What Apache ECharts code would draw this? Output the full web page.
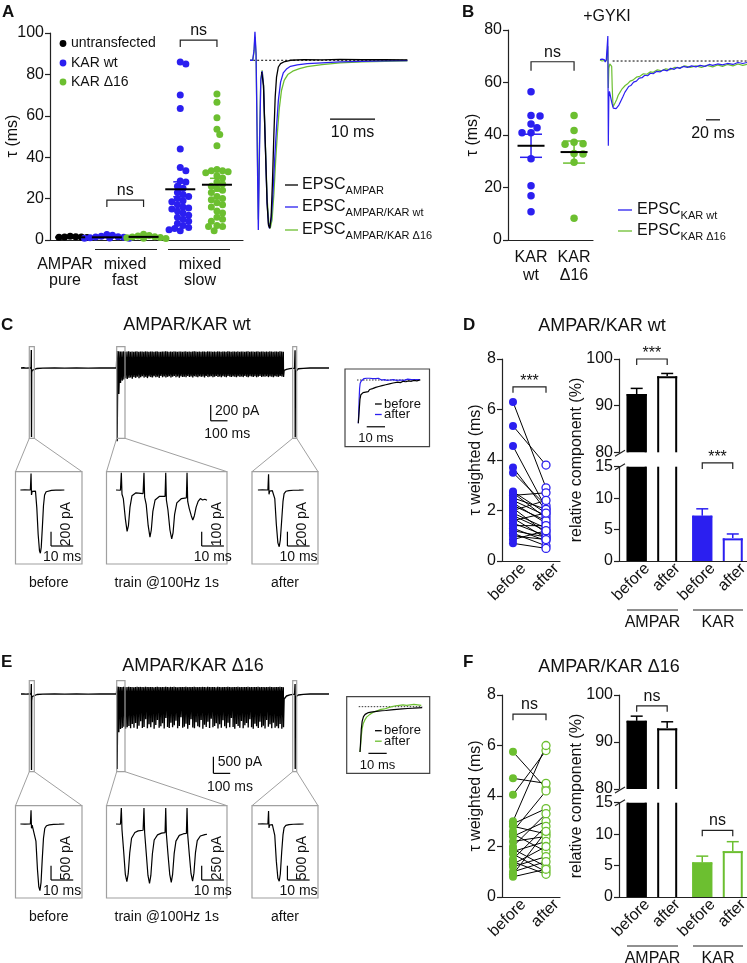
<!DOCTYPE html>
<html>
<head>
<meta charset="utf-8">
<title>AMPAR/KAR figure</title>
<script src="https://cdn.jsdelivr.net/npm/echarts@6/dist/echarts.min.js"></script>
<style>
html,body{margin:0;padding:0;background:#fff;}
#chart{width:747px;height:963px;}
</style>
</head>
<body>
<div id="chart"></div>
<script>
// ======================= DATA =======================
// Panel A – decay time constants tau (ms)
const aPure    = [1.5, 1.2, 1.8, 1.4, 1.6, 1.3];
const aFastWt  = [1.0, 1.4, 2.3, 0.8, 1.6, 1.1, 2.6, 0.9, 1.3, 1.8];
const aFastD16 = [1.2, 2.8, 0.7, 1.5, 1.9, 0.9, 1.1, 2.2, 1.6];
const aSlowWt  = [86, 85, 70, 63.5, 44, 35, 33.5, 28.5, 28, 26, 25, 23, 22, 21, 20, 19, 18.5, 17, 16, 15.5, 15, 14, 13, 12, 11, 10, 9, 8, 7, 6, 5.5, 5, 4.5];
const aSlowD16 = [70.5, 66.5, 59, 53.5, 51, 45.5, 34, 33.5, 33.5, 33, 32.5, 31, 30, 28, 27, 26, 25, 24, 23, 21, 20, 19.5, 18, 17, 16, 14, 13, 11, 10, 9, 7, 6.5, 6.5, 4.5];
const aMean = [1.3, 1.3, 1.5, 24.5, 26.7];
const aSem  = [0.1, 0.15, 0.2, 3.6, 3.1];
const aGroupLabels = ['AMPAR\npure', 'mixed\nfast', 'mixed\nslow'];
const aLegend = ['untransfected', 'KAR wt', 'KAR \u039416'];
// Panel A – example EPSCs (ms, normalised current)
const aTraceAmpar = [[2.6,-0.07],[3.0,-0.15],[3.4,-0.5],[3.8,-0.85],[4.1,-0.98],[4.4,-1.0],[4.7,-0.93],[5.0,-0.72],[5.3,-0.45],[5.6,-0.22],[5.9,-0.1],[6.3,-0.04],[6.8,-0.02],[7.5,-0.01],[9,0],[12,0.004],[16,0.002],[20,0.005],[25,0.003],[30,0.004],[35,0.002]];
const aTraceWt = [[0,0],[0.6,0],[0.9,0.06],[1.1,0.17],[1.35,0.04],[1.6,-0.5],[1.85,-1.01],[2.1,-0.55],[2.4,-0.12],[2.7,-0.065],[3.0,-0.15],[3.4,-0.5],[3.8,-0.85],[4.1,-0.97],[4.3,-1.0],[4.7,-0.95],[5.1,-0.8],[5.5,-0.58],[5.9,-0.4],[6.3,-0.24],[6.8,-0.13],[7.4,-0.075],[8.2,-0.05],[9,-0.036],[10.5,-0.028],[12.7,-0.02],[16,-0.015],[20,-0.01],[25,-0.007],[30,-0.004],[35,-0.002]];
const aTraceD16 = [[0,0],[0.6,0],[0.9,0.05],[1.1,0.14],[1.35,0.03],[1.6,-0.45],[1.85,-0.95],[2.1,-0.5],[2.4,-0.11],[2.7,-0.06],[3.0,-0.14],[3.4,-0.48],[3.8,-0.82],[4.2,-0.97],[4.5,-1.0],[4.9,-0.95],[5.3,-0.8],[5.7,-0.6],[6.1,-0.43],[6.5,-0.29],[7.0,-0.18],[7.6,-0.12],[8.4,-0.085],[9.5,-0.065],[11,-0.05],[12.7,-0.038],[16,-0.026],[20,-0.016],[25,-0.01],[30,-0.006],[35,-0.003]];

// Panel B – +GYKI tau (ms)
const bWt  = [56.5, 47.2, 47.4, 44.2, 42.8, 40.9, 40.9, 31, 20.7, 16.9, 10.8];
const bD16 = [47.4, 41.7, 37.2, 36.5, 36.7, 33, 32.8, 29.6, 8.3];
const bMean = [35.9, 33.5];
const bSem  = [4.4, 4.2];
const bLabels = ['KAR\nwt', 'KAR\n\u039416'];
const bTraceWt = [[0,0.03],[1.5,-0.01],[3,0.04],[4.5,0.0],[6,0.03],[7.5,-0.02],[9,0.03],[10.5,0.0],[11.2,0.51],[11.9,-1.73],[12.6,-0.75],[13.5,-0.62],[15,-0.72],[17,-0.86],[19,-0.96],[21,-1.0],[23,-0.97],[25,-0.95],[27,-0.9],[29,-0.86],[31,-0.78],[33,-0.72],[35.5,-0.64],[38,-0.6],[41,-0.52],[44,-0.5],[48,-0.43],[52,-0.41],[56,-0.35],[60,-0.34],[64,-0.29],[68,-0.3],[72,-0.25],[76,-0.26],[81,-0.21],[86,-0.22],[91,-0.18],[96,-0.2],[101,-0.15],[106,-0.17],[110,-0.13],[114,-0.15],[119,-0.11],[125,-0.13],[131,-0.1],[137,-0.12],[143,-0.09],[150,-0.11],[156,-0.07],[161,-0.09],[168,-0.06],[175,-0.08],[182,-0.05],[190,-0.07],[197,-0.03],[204,-0.05],[210,-0.03]];
const bTraceD16 = [[0,0.02],[1.5,0.05],[3,0.0],[4.5,0.04],[6,0.01],[7.5,0.04],[9,0.0],[10.5,0.03],[11.2,0.3],[11.9,-0.55],[12.7,-0.15],[14,-0.06],[15.5,-0.05],[16.7,-0.11],[17.5,-0.55],[18.6,-0.94],[20,-0.92],[22,-0.84],[24,-0.78],[26,-0.7],[28.5,-0.64],[31,-0.58],[33,-0.55],[36,-0.5],[39,-0.47],[43,-0.41],[47,-0.39],[52,-0.33],[57,-0.31],[62,-0.26],[67,-0.27],[72,-0.22],[76,-0.23],[82,-0.18],[88,-0.2],[94,-0.16],[100,-0.18],[107,-0.13],[114,-0.14],[121,-0.1],[129,-0.13],[137,-0.1],[145,-0.13],[153,-0.09],[161,-0.12],[168,-0.08],[175,-0.11],[182,-0.07],[190,-0.1],[197,-0.06],[204,-0.09],[210,-0.07]];

// Panel C – AMPAR/KAR wt, 100 Hz train (ms, pA)
const trainStartMs = 571, trainPeriodMs = 10;
const cTracePre  = [[0,0],[15,3],[30,-2],[45,2],[60,0],[61.5,230],[62.5,-876],[63.5,-60],[66,-30],[75,-15],[95,-6],[130,-2],[200,2],[260,-2],[330,1],[400,-1],[470,2],[540,0],[568,0]];
const cTracePost = [[1568,-30],[1580,-18],[1600,-8],[1628,-2],[1631,225],[1632,-880],[1633,-50],[1636,-25],[1650,-10],[1680,-4],[1720,0],[1780,2],[1833,0]];
const cTrainRest = -30;
const cTrainTop = [215,212,210,208,211,206,209,212,207,210,205,209,211,207,210,208,206,211,209,207,210,208,205,209,211,207,206,210,208,212,209,206,210,207,211,208,205,209,210,207,208,211,206,209,207,210,212,208,205,209,207,210,209,206,211,208,210,207,209,205,211,208,206,210,209,207,212,208,206,210,209,207,211,205,208,210,207,209,212,206,208,210,207,209,211,206,208,210,205,209,207,211,208,206,210,209,207,212,208,205];
const cTrainBot = [-930,-330,-190,-160,-145,-130,-140,-125,-120,-135,-115,-125,-110,-130,-118,-105,-122,-112,-128,-108,-115,-120,-104,-118,-110,-125,-100,-116,-108,-121,-112,-105,-119,-110,-102,-117,-108,-123,-106,-114,-110,-118,-101,-113,-107,-120,-104,-111,-116,-103,-112,-108,-119,-102,-115,-109,-105,-117,-110,-100,-113,-107,-118,-104,-111,-116,-102,-109,-114,-106,-110,-118,-103,-112,-107,-115,-101,-110,-117,-105,-108,-113,-104,-116,-109,-102,-114,-107,-111,-103,-115,-106,-110,-118,-104,-109,-112,-101,-108,-113];
const cInsetBefore = [[0,0],[2,3],[4.5,0],[4.8,230],[5.0,-70],[5.3,-20],[6,-8],[6.8,-15],[7.4,-250],[8.0,-620],[8.6,-850],[9.0,-886],[9.4,-800],[9.9,-520],[10.4,-220],[10.9,-70],[11.6,-25],[12.5,-12],[14,-6],[16,-3],[18,-2],[19.8,0]];
const cInsetTrain = [[0,0],[2,-2],[2.4,120],[2.7,-30],[3.3,-60],[4.2,-200],[5.0,-290],[5.6,-250],[6.3,-120],[7.2,-40],[9,-20],[12.2,-25],[12.6,120],[12.9,-50],[13.6,-100],[14.5,-250],[15.3,-330],[15.9,-280],[16.6,-150],[17.6,-70],[19.5,-45],[22.1,-45],[22.4,120],[22.7,-70],[23.4,-140],[24.3,-280],[25.1,-343],[25.7,-300],[26.4,-170],[27.4,-90],[29.5,-60],[31.7,-55],[32.0,120],[32.3,-80],[33.0,-130],[33.9,-180],[34.6,-210],[35.3,-180],[36.1,-120],[37,-80],[38,-60],[39,-70],[40,-65],[41,-72]];
const cInsetAfter = [[0,0],[2,2],[4.5,0],[4.8,220],[5.0,-60],[5.3,-15],[6.5,-10],[7.6,-120],[8.3,-480],[9.0,-740],[9.6,-794],[10.1,-700],[10.7,-430],[11.3,-160],[11.8,-50],[12.6,-18],[14,-8],[16,-4],[18.5,-2],[20.6,0]];
const cDecayBefore = [[0,-1],[0.4,-0.75],[0.9,-0.45],[1.4,-0.34],[1.9,-0.3],[2.6,-0.29],[3.3,-0.26],[4,-0.28],[4.6,-0.25],[5.4,-0.27],[6.2,-0.22],[7,-0.24],[7.8,-0.2],[8.6,-0.21],[9.5,-0.17],[10.4,-0.19],[11.2,-0.15],[12,-0.16],[13,-0.13],[14,-0.14],[15,-0.11],[16,-0.12],[17,-0.09],[18,-0.1],[19,-0.07],[20,-0.08],[21.5,-0.05],[23,-0.06],[24.5,-0.03],[26,-0.04],[27.5,-0.02],[29,-0.03],[30.5,-0.01],[32,-0.02],[33.7,0]];
const cDecayAfter = [[0,-1],[0.2,-0.8],[0.45,-0.45],[0.7,-0.2],[1.0,-0.08],[1.5,-0.03],[2.2,0.0],[3,0.03],[3.8,0.01],[4.6,0.04],[5.4,0.02],[6.2,0.04],[7,0.01],[7.8,0.03],[8.6,0.0],[9.4,0.03],[10.2,0.01],[11,0.04],[11.8,0.02],[12.6,0.0],[13.4,0.03],[14.2,0.01],[15,0.02],[15.8,-0.01],[16.6,0.02],[17.4,0.0],[18.2,0.03],[19,0.01],[20,0.02],[21,-0.01],[22,0.02],[23,0.0],[24,0.02],[25,-0.01],[26,0.01],[27,0.02],[28,0.0],[29,0.01],[30,-0.01],[31,0.01],[32,0.0],[33.7,0.01]];
const insetNames = ['before', 'train @100Hz 1s', 'after'];

// Panel D – AMPAR/KAR wt
const dBefore = [6.3, 5.35, 4.55, 3.7, 3.5, 2.75, 2.7, 2.6, 2.5, 2.4, 2.3, 2.2, 2.1, 2.0, 1.9, 1.8, 1.7, 1.6, 1.5, 1.4, 1.3, 1.2, 1.1, 1.0, 0.85, 0.7];
const dAfter  = [2.9, 3.8, 2.1, 2.0, 2.2, 1.9, 1.7, 2.7, 2.05, 1.8, 1.5, 1.6, 1.1, 2.4, 1.3, 1.2, 0.9, 1.9, 1.0, 1.4, 0.8, 0.95, 0.6, 0.85, 1.2, 0.5];
const pairLabels = ['before', 'after'];
const barLabels = ['before', 'after', 'before', 'after'];
const barGroups = ['AMPAR', 'KAR'];
const dBarMean = [92.5, 96.3, 7.2, 3.6];
const dBarSem  = [1.2, 0.6, 1.1, 0.7];

// Panel E – AMPAR/KAR delta16 (ms, pA)
const eTracePre  = [[0,0],[15,5],[30,-5],[45,4],[60,0],[61.5,300],[62.5,-2280],[63.5,-200],[66,-80],[75,-40],[95,-15],[130,-5],[200,5],[260,-5],[330,3],[400,-3],[470,4],[540,0],[568,0]];
const eTracePost = [[1568,-120],[1580,-60],[1600,-25],[1628,-5],[1631,300],[1632,-2250],[1633,-180],[1636,-80],[1650,-30],[1680,-10],[1720,0],[1780,4],[1833,0]];
const eTrainRest = -150;
const eTrainTop = [225,218,212,209,214,206,211,216,207,212,204,210,215,208,213,209,205,214,210,207,212,208,204,211,215,207,205,212,209,216,210,206,213,208,214,209,204,211,212,207,209,215,206,211,208,212,216,209,205,211,208,213,210,206,214,209,212,207,211,204,214,209,206,212,210,207,216,209,206,212,210,207,214,205,209,212,207,210,216,206,209,212,207,210,214,206,209,212,205,211,208,214,209,206,212,210,207,216,209,205];
const eTrainBot = [-2250,-1150,-1050,-1020,-980,-1040,-1000,-960,-1030,-900,-1010,-870,-1040,-950,-820,-1020,-990,-760,-1030,-910,-1000,-850,-1045,-930,-780,-1010,-970,-880,-1035,-720,-990,-1020,-860,-1000,-940,-800,-1030,-960,-700,-1015,-980,-890,-1040,-930,-760,-1005,-1025,-850,-970,-1000,-780,-1040,-920,-990,-830,-1020,-740,-1000,-960,-880,-1035,-910,-1010,-790,-970,-1025,-860,-1000,-720,-990,-1040,-900,-960,-1015,-810,-1030,-940,-870,-1005,-760,-995,-1040,-890,-970,-1020,-830,-1000,-950,-1035,-780,-985,-910,-1030,-860,-1010,-970,-1025,-900,-1040,-1000];
const eInsetBefore = [[0,0],[2,-3],[4.5,0],[4.8,480],[5.0,-150],[5.3,-40],[6.2,-30],[7.0,-600],[7.7,-1600],[8.3,-2200],[8.8,-2330],[9.3,-2050],[9.8,-1300],[10.4,-500],[11,-150],[11.8,-60],[13,-30],[15,-15],[17.5,-8],[19.8,0]];
const eInsetTrain = [[0,0],[2,-5],[2.4,280],[2.7,-100],[3.4,-450],[4.2,-880],[4.9,-1010],[5.5,-870],[6.2,-500],[7,-250],[8.5,-150],[10,-120],[12.2,-110],[12.6,280],[12.9,-150],[13.6,-500],[14.4,-900],[15.1,-1040],[15.7,-900],[16.4,-520],[17.2,-280],[18.7,-190],[20.5,-160],[22.1,-150],[22.4,280],[22.7,-180],[23.4,-520],[24.2,-880],[24.9,-1020],[25.5,-880],[26.2,-520],[27,-300],[28.5,-200],[30.5,-170],[31.7,-165],[32.0,280],[32.3,-190],[33,-520],[33.8,-870],[34.5,-1000],[35.1,-860],[35.8,-500],[36.6,-290],[38,-210],[40,-185],[41,-180]];
const eInsetAfter = [[0,0],[2,2],[4.5,0],[4.8,450],[5.0,-140],[5.3,-35],[6.5,-25],[7.6,-400],[8.3,-1300],[9.0,-1900],[9.6,-2000],[10.1,-1750],[10.7,-1000],[11.3,-380],[11.8,-130],[12.6,-50],[14,-20],[16,-10],[18.5,-4],[20.6,0]];
const eDecayBefore = [[0,-1],[0.3,-0.8],[0.7,-0.5],[1.2,-0.32],[1.9,-0.22],[2.8,-0.17],[3.7,-0.15],[4.6,-0.13],[6,-0.12],[8,-0.11],[10,-0.1],[12,-0.09],[14,-0.085],[17,-0.07],[20,-0.06],[23,-0.05],[26,-0.04],[29,-0.033],[32,-0.025],[34,-0.02]];
const eDecayAfter = [[0,-1],[0.3,-0.88],[0.7,-0.65],[1.2,-0.48],[1.8,-0.37],[2.7,-0.29],[3.6,-0.23],[4.5,-0.2],[5.4,-0.17],[6.4,-0.16],[7.4,-0.12],[8.4,-0.13],[9.4,-0.09],[10.4,-0.1],[11.4,-0.06],[12.4,-0.08],[13.5,-0.05],[14.5,-0.06],[15.5,-0.02],[16.5,-0.04],[17.5,0.0],[18.5,-0.02],[19.5,0.02],[20.5,0.0],[21.5,0.03],[22.5,0.01],[23.5,0.04],[24.5,0.01],[25.5,0.03],[26.5,0.0],[27.5,0.04],[28.5,0.02],[29.5,0.05],[30.5,0.02],[31.5,0.04],[32.5,0.01],[33.5,0.03]];

// Panel F – AMPAR/KAR delta16
const fBefore = [5.75, 4.7, 4.05, 3.0, 2.9, 2.8, 2.6, 2.5, 2.4, 2.2, 2.0, 1.9, 1.8, 1.7, 1.5, 1.4, 1.3, 1.2, 1.0, 0.9, 0.8];
const fAfter  = [4.3, 4.5, 5.8, 6.0, 3.5, 2.5, 4.2, 1.8, 3.0, 2.4, 3.3, 1.2, 2.2, 1.0, 2.8, 0.9, 2.0, 1.6, 1.4, 2.6, 1.1];
const fBarMean = [94.5, 92.9, 5.5, 7.3];
const fBarSem  = [1.0, 1.4, 1.0, 1.5];

// ======================= STYLE / LAYOUT =======================
const FONT = "'Liberation Sans', Arial, Helvetica, sans-serif";
const BLUE = '#2b1ff0', GREEN = '#6cbf30', INK = '#111111', AX = '#222222', BOX = '#a0a0a0';

function G(left, top, width, height, xr, yr) { return {left, top, width, height, xr, yr}; }
function px(g, x, y) {
  return [g.left + (x - g.xr[0]) / (g.xr[1] - g.xr[0]) * g.width,
          g.top + (g.yr[1] - y) / (g.yr[1] - g.yr[0]) * g.height];
}

const gA   = G(50, 33, 193, 207, [-0.55, 4.71], [0, 100]);
const gAt  = G(250, 25, 170, 215, [0, 37.8], [-1.07, 0.21]);
const gB   = G(508, 30, 85, 210, [-0.535, 1.44], [0, 80]);
const gBt  = G(600, 25, 147, 130, [0, 210], [-1.918, 0.735]);
const gC   = G(21, 338, 308, 112, [0, 1833], [-1041, 381]);
const gCi1 = G(15.5, 471.7, 66.5, 92.3, [-2.2, 27.75], [-1036, 256]);
const gCi2 = G(106.5, 471.7, 120.5, 92.3, [-4.28, 50], [-518, 128]);
const gCi3 = G(252, 471.7, 66, 92.3, [-2.66, 27.07], [-1036, 256]);
const gCd  = G(345, 369, 84.5, 77.7, [-7.27, 38.9], [-1.54, 0.254]);
const gD   = G(502, 359, 58, 202, [-0.333, 1.424], [0, 8]);
const gDu  = G(619, 359, 128, 93.3, [-0.58, 3.617], [80, 100]);
const gDl  = G(619, 466.7, 128, 94.3, [-0.58, 3.617], [0, 15]);
const gE   = G(21, 674, 308, 110, [0, 1833], [-2700, 600]);
const gEi1 = G(15.5, 805.7, 66.5, 92.3, [-2.2, 27.75], [-2590, 640]);
const gEi2 = G(106.5, 805.7, 120.5, 92.3, [-4.28, 50], [-1295, 320]);
const gEi3 = G(252, 805.7, 66, 92.3, [-2.66, 27.07], [-2590, 640]);
const gEd  = G(346.7, 696.7, 83, 76.6, [-7.27, 38.1], [-1.47, 0.22]);
const gF   = G(502, 695, 58, 202, [-0.333, 1.424], [0, 8]);
const gFu  = G(619, 695, 128, 94, [-0.58, 3.617], [80, 100]);
const gFl  = G(619, 802.7, 128, 94.3, [-0.58, 3.617], [0, 15]);

const barPos = [0, 1, 2.15, 3.15];   // before/after within AMPAR and KAR groups

// ======================= BUILDERS =======================
const grids = [], xAxes = [], yAxes = [], series = [], graphics = [];
const NOAX = {axisLine:{show:false}, axisTick:{show:false}, axisLabel:{show:false}, splitLine:{show:false}};
function addGrid(g, xo, yo, border) {
  const i = grids.length;
  const gr = {left:g.left, top:g.top, width:g.width, height:g.height, containLabel:false, outerBoundsMode:'none'};
  if (border) { gr.show = true; gr.borderColor = border; gr.borderWidth = 1.2; gr.backgroundColor = 'rgba(0,0,0,0)'; }
  grids.push(gr);
  xAxes.push(Object.assign({gridIndex:i, type:'value', min:g.xr[0], max:g.xr[1]}, NOAX, xo || {}));
  yAxes.push(Object.assign({gridIndex:i, type:'value', min:g.yr[0], max:g.yr[1]}, NOAX, yo || {}));
  g.i = i;
  return i;
}
function yVis(interval) {
  return {interval,
    axisLine:{show:true, onZero:false, lineStyle:{color:AX, width:1.2}},
    axisTick:{show:true, length:5, lineStyle:{color:AX, width:1.2}},
    axisLabel:{show:true, fontFamily:FONT, fontSize:16, color:INK, margin:6},
    splitLine:{show:false}};
}
const xLine = {axisLine:{show:true, onZero:false, lineStyle:{color:AX, width:1.2}}};

function T(x, y, text, size, o) {
  o = o || {};
  const al = o.align || 'center';
  const st = {text, fontFamily:FONT, fontSize:size, fontWeight:o.weight || 'normal', fill:o.fill || INK,
    align:al, textAlign:al, verticalAlign:'middle', textVerticalAlign:'middle'};
  if (o.lineHeight) st.lineHeight = o.lineHeight;
  return {type:'text', x, y, rotation:o.rotation || 0, z:60, silent:true, style:st};
}
function L(x1, y1, x2, y2, color, w, dash) {
  const st = {stroke:color || AX, lineWidth:w || 1.2};
  if (dash) st.lineDash = dash;
  return {type:'line', z:55, silent:true, shape:{x1, y1, x2, y2}, style:st};
}
function R(x, y, w, h, color, lw) {
  return {type:'rect', z:55, silent:true, shape:{x, y, width:w, height:h}, style:{stroke:color, lineWidth:lw || 1.2, fill:'rgba(0,0,0,0)'}};
}
// 45-degree category labels under an x position of grid g
function slantLabels(g, pos, labels) {
  pos.forEach((p, k) => {
    const q = px(g, p, g.yr[0]);
    graphics.push(T(q[0] + 10.5, q[1] + 5, labels[k], 16, {rotation:Math.PI / 4, align:'right'}));
  });
}

function trace(g, data, color, w, z) {
  series.push({type:'line', xAxisIndex:g.i, yAxisIndex:g.i, data, symbol:'none', showSymbol:false, silent:true,
    animation:false, clip:false, z:z || 3, lineStyle:{color, width:w || 1}, emphasis:{disabled:true}});
}
function trainTrace(g, pre, tops, bots, rest, post, color) {
  const pts = pre.slice();
  tops.forEach((top, i) => {
    const t = trainStartMs + i * trainPeriodMs;
    pts.push([t, top], [t + 1.2, bots[i]], [t + 5, rest]);
  });
  trace(g, pts.concat(post), color, 1.35, 3);
}
function scatter(g, data, color, size, hollow, z) {
  series.push({type:'scatter', xAxisIndex:g.i, yAxisIndex:g.i, data, symbol:'circle', symbolSize:size, silent:true,
    animation:false, z:z || 4, emphasis:{disabled:true},
    itemStyle: hollow ? {color:'#ffffff', borderColor:color, borderWidth:1.3, opacity:1} : {color, opacity:1}});
}
function swarm(vals, center, diam, g, factor) {
  const xs = g.width / (g.xr[1] - g.xr[0]), ys = g.height / (g.yr[1] - g.yr[0]);
  const order = vals.map((v, i) => i).sort((a, b) => vals[b] - vals[a]);
  const placed = [], out = new Array(vals.length), minD = diam * factor;
  for (const i of order) {
    const py = vals[i] * ys;
    let off = 0;
    for (let k = 0; k < 80; k++) {
      const o = (k % 2 === 1 ? 1 : -1) * Math.ceil(k / 2) * diam * 0.4;
      if (placed.every(p => (p[0] - o) ** 2 + (p[1] - py) ** 2 >= minD * minD)) { off = o; break; }
    }
    placed.push([off, py]);
    out[i] = [center + off / xs, vals[i]];
  }
  return out;
}
function meanSem(g, pos, means, sems, colors, halfW, capW) {
  series.push({type:'custom', xAxisIndex:g.i, yAxisIndex:g.i, silent:true, animation:false, z:6,
    data: pos.map((p, i) => [p, means[i], sems[i]]),
    renderItem(params, api) {
      const i = params.dataIndex, p = pos[i], m = means[i], s = sems[i], col = colors[i];
      const c = api.coord([p, m]), t = api.coord([p, m + s]), b = api.coord([p, m - s]);
      return {type:'group', children:[
        {type:'line', shape:{x1:c[0], y1:t[1], x2:c[0], y2:b[1]}, style:{stroke:col, lineWidth:1.5}},
        {type:'line', shape:{x1:c[0] - capW, y1:t[1], x2:c[0] + capW, y2:t[1]}, style:{stroke:col, lineWidth:1.5}},
        {type:'line', shape:{x1:c[0] - capW, y1:b[1], x2:c[0] + capW, y2:b[1]}, style:{stroke:col, lineWidth:1.5}},
        {type:'line', shape:{x1:c[0] - halfW, y1:c[1], x2:c[0] + halfW, y2:c[1]}, style:{stroke:'#000', lineWidth:2}}
      ]};
    }});
}
function pairLines(g, before, after) {
  series.push({type:'custom', xAxisIndex:g.i, yAxisIndex:g.i, silent:true, animation:false, z:3,
    data: before.map((b, i) => [b, after[i]]),
    renderItem(params, api) {
      const i = params.dataIndex;
      const a = api.coord([0, before[i]]), b = api.coord([1, after[i]]);
      return {type:'line', shape:{x1:a[0], y1:a[1], x2:b[0], y2:b[1]}, style:{stroke:'#000', lineWidth:1}};
    }});
}
function bars(g, vals, fills, strokes, barW) {
  const lo = g.yr[0], hi = g.yr[1];
  series.push({type:'custom', xAxisIndex:g.i, yAxisIndex:g.i, silent:true, animation:false, z:3,
    data: barPos.map((p, i) => [p, vals[i]]),
    renderItem(params, api) {
      const i = params.dataIndex, v = vals[i];
      if (v <= lo) return null;
      const top = Math.min(v, hi);
      const pt = api.coord([barPos[i], top]), pb = api.coord([barPos[i], lo]);
      const x0 = pt[0] - barW / 2, x1 = pt[0] + barW / 2, h = 1;
      const st = {stroke:strokes[i], lineWidth:2};
      const ch = [{type:'rect', shape:{x:x0, y:pt[1], width:barW, height:pb[1] - pt[1]}, style:{fill:fills[i]}},
        {type:'line', shape:{x1:x0 + h, y1:pb[1], x2:x0 + h, y2:pt[1]}, style:st},
        {type:'line', shape:{x1:x1 - h, y1:pb[1], x2:x1 - h, y2:pt[1]}, style:st}];
      if (v <= hi) ch.push({type:'line', shape:{x1:x0, y1:pt[1] + h, x2:x1, y2:pt[1] + h}, style:st});
      return {type:'group', children:ch};
    }});
}
function barErr(g, vals, sems, colors, capW) {
  const lo = g.yr[0], hi = g.yr[1];
  series.push({type:'custom', xAxisIndex:g.i, yAxisIndex:g.i, silent:true, animation:false, z:2,
    data: barPos.map((p, i) => [p, vals[i] + sems[i]]),
    renderItem(params, api) {
      const i = params.dataIndex, v = vals[i], e = v + sems[i];
      if (v < lo || e > hi) return null;
      const a = api.coord([barPos[i], v]), b = api.coord([barPos[i], e]);
      const st = {stroke:colors[i], lineWidth:1.5};
      return {type:'group', children:[
        {type:'line', shape:{x1:a[0], y1:a[1], x2:b[0], y2:b[1]}, style:st},
        {type:'line', shape:{x1:b[0] - capW, y1:b[1], x2:b[0] + capW, y2:b[1]}, style:st}]};
    }});
}
function bracket(g, x1, x2, y, drop, label, dy) {
  const p1 = px(g, x1, y), p2 = px(g, x2, y);
  graphics.push({type:'polyline', z:55, silent:true,
    shape:{points:[[p1[0], p1[1] + drop], [p1[0], p1[1]], [p2[0], p2[1]], [p2[0], p2[1] + drop]]},
    style:{stroke:AX, lineWidth:1.2, fill:null}});
  graphics.push(T((p1[0] + p2[0]) / 2, p1[1] + dy, label, 16));
}
// scale bars, positioned in data units of the trace's own axes
function scaleMain(g, t, v, dt, dv, vText, hText) {
  const c = px(g, t, v), up = px(g, t, v + dv), r = px(g, t + dt, v);
  graphics.push(L(c[0], up[1], c[0], c[1], '#000', 1.2), L(c[0], c[1], r[0], c[1], '#000', 1.2));
  graphics.push(T(c[0] + 4.3, up[1] + 5.7, vText, 14, {align:'left'}));
  graphics.push(T(c[0] - 6.4, c[1] + 13.3, hText, 14, {align:'left'}));
}
function scaleInset(g, t, v, dt, dv, vText, hText) {
  const c = px(g, t, v), up = px(g, t, v + dv), r = px(g, t + dt, v);
  graphics.push(L(c[0], up[1], c[0], c[1], '#000', 1.2), L(c[0], c[1], r[0], c[1], '#000', 1.2));
  graphics.push(T(c[0] + 15, up[1] - 7.7, vText, 14, {rotation:Math.PI / 2}));
  graphics.push(T((c[0] + r[0]) / 2, c[1] + 10.7, hText, 14));
}
function scaleH(g, t, v, dt, text, size, gap) {
  const a = px(g, t, v), b = px(g, t + dt, v);
  graphics.push(L(a[0], a[1], b[0], b[1], '#000', 1.2));
  graphics.push(T((a[0] + b[0]) / 2, a[1] + gap, text, size));
}
function subText(x, y, main, s, size, subSize) {
  return {type:'text', x, y, z:60, silent:true,
    style:{text:'{m|' + main + '}{s|' + s + '}',
      rich:{m:{fontFamily:FONT, fontSize:size, fill:INK, lineHeight:22, verticalAlign:'middle'},
            s:{fontFamily:FONT, fontSize:subSize, fill:INK, lineHeight:22, verticalAlign:'bottom'}},
      fontFamily:FONT, fontSize:size, fill:INK, align:'left', textAlign:'left', verticalAlign:'middle', textVerticalAlign:'middle'}};
}

// ======================= PANEL A =======================
addGrid(gA, xLine, yVis(20));
const aPos = [0, 1, 2, 3, 4];
scatter(gA, swarm(aPure, aPos[0], 7, gA, 0.55), '#000', 7);
scatter(gA, swarm(aFastWt, aPos[1], 7, gA, 0.55), BLUE, 7);
scatter(gA, swarm(aFastD16, aPos[2], 7, gA, 0.55), GREEN, 7);
scatter(gA, swarm(aSlowWt, aPos[3], 7, gA, 0.8), BLUE, 7);
scatter(gA, swarm(aSlowD16, aPos[4], 7, gA, 0.8), GREEN, 7);
meanSem(gA, aPos, aMean, aSem, ['#000', BLUE, GREEN, BLUE, GREEN], 15, 7);
bracket(gA, 1, 2, 19.3, 7, 'ns', -9.5);
bracket(gA, 3, 4, 96.6, 7, 'ns', -9.5);
graphics.push(T(12.5, 136, '\u03c4 (ms)', 16, {rotation:Math.PI / 2}));
graphics.push(T(65, 272.5, aGroupLabels[0], 16, {lineHeight:16}));
graphics.push(T(125, 272.5, aGroupLabels[1], 16, {lineHeight:16}));
graphics.push(T(200, 272.5, aGroupLabels[2], 16, {lineHeight:16}));
graphics.push(L(95, 249.5, 157, 249.5, AX, 1.2), L(168, 249.5, 230, 249.5, AX, 1.2));
[['#000', 43.5], [BLUE, 63], [GREEN, 82]].forEach((d, k) => {
  graphics.push({type:'circle', z:60, silent:true, shape:{cx:63, cy:d[1], r:3.4}, style:{fill:d[0]}});
  graphics.push(T(71, d[1], aLegend[k], 14, {align:'left'}));
});
// A traces
addGrid(gAt);
series.push({type:'line', xAxisIndex:gAt.i, yAxisIndex:gAt.i, data:[[0.7, 0], [35, 0]], symbol:'none', silent:true,
  animation:false, z:2, lineStyle:{color:'#000', width:1, type:[2, 2]}});
trace(gAt, aTraceD16, GREEN, 1.3, 3);
trace(gAt, aTraceWt, BLUE, 1.3, 4);
trace(gAt, aTraceAmpar, '#000', 1.3, 5);
scaleH(gAt, 17.8, -0.35, 10, '10 ms', 16, 13.3);
[['#000', 'AMPAR', 185], [BLUE, 'AMPAR/KAR wt', 207], [GREEN, 'AMPAR/KAR \u039416', 230]].forEach(d => {
  graphics.push(L(285, d[2], 298, d[2], d[0], 1.3));
  graphics.push(subText(302, d[2], 'EPSC', d[1], 16, 11));
});

// ======================= PANEL B =======================
addGrid(gB, Object.assign({}, xLine), yVis(20));
scatter(gB, swarm(bWt, 0, 7.5, gB, 0.85), BLUE, 7.5);
scatter(gB, swarm(bD16, 1, 7.5, gB, 0.85), GREEN, 7.5);
meanSem(gB, [0, 1], bMean, bSem, [BLUE, GREEN], 13.5, 11);
bracket(gB, 0, 1, 67.9, 9, 'ns', -9.5);
graphics.push(T(473, 135, '\u03c4 (ms)', 16, {rotation:Math.PI / 2}));
graphics.push(T(531, 267, bLabels[0], 16, {lineHeight:18}));
graphics.push(T(574, 267, bLabels[1], 16, {lineHeight:18}));
graphics.push(T(607, 17, '+GYKI', 16));
addGrid(gBt);
series.push({type:'line', xAxisIndex:gBt.i, yAxisIndex:gBt.i, data:[[18, 0], [210, 0]], symbol:'none', silent:true,
  animation:false, z:2, lineStyle:{color:'#000', width:1, type:[2, 2]}});
trace(gBt, bTraceD16, GREEN, 1.2, 3);
trace(gBt, bTraceWt, BLUE, 1.2, 4);
scaleH(gBt, 151.4, -1.2, 20, '20 ms', 16, 13.3);
[[BLUE, 'KAR wt', 210], [GREEN, 'KAR \u039416', 231]].forEach(d => {
  graphics.push(L(618, d[2], 632, d[2], d[0], 1.3));
  graphics.push(subText(637, d[2], 'EPSC', d[1], 16, 11));
});

// ======================= PANELS C & E (traces) =======================
function tracePanel(gMain, gI1, gI2, gI3, gDec, pre, tops, bots, rest, post, ins, decB, decA, afterColor, sc, title, titleXY, labelY) {
  addGrid(gMain);
  trainTrace(gMain, pre, tops, bots, rest, post, '#000');
  scaleMain(gMain, sc.main[0], sc.main[1], 100, sc.main[2], sc.main[3], '100 ms');
  const gi = [gI1, gI2, gI3];
  gi.forEach((g, k) => {
    addGrid(g, null, null, BOX);
    trace(g, ins[k], '#000', 1.2, 3);
    scaleInset(g, sc.ins[k][0], sc.ins[k][1], 10, sc.ins[k][2], sc.ins[k][3], '10 ms');
    graphics.push(T(g.left + g.width / 2, labelY, insetNames[k], 14));
  });
  addGrid(gDec, null, null, '#444');
  series.push({type:'line', xAxisIndex:gDec.i, yAxisIndex:gDec.i, data:[[-0.7, 0], [34, 0]], symbol:'none', silent:true,
    animation:false, z:2, lineStyle:{color:'#000', width:0.8, type:[1.5, 1.5]}});
  trace(gDec, decA, afterColor, 1.2, 3);
  trace(gDec, decB, '#000', 1.2, 4);
  scaleH(gDec, 4.6, sc.dec, 10, '10 ms', 13, 11.6);
  const ly = sc.legY;
  graphics.push(L(375, ly, 381.7, ly, '#000', 1.3), L(375, ly + 10.5, 381.7, ly + 10.5, afterColor, 1.3));
  graphics.push(T(384, ly, 'before', 13, {align:'left'}), T(384, ly + 10.5, 'after', 13, {align:'left'}));
  graphics.push(T(titleXY[0], titleXY[1], title, 18));
  // zoom boxes on the long trace and connectors to the insets
  const bt = sc.boxTop, bb = sc.boxBot, it = gI1.top;
  [[29.3, 34.3, gI1], [116.7, 125, gI2], [292.7, 296.7, gI3]].forEach(b => {
    graphics.push(R(b[0], bt, b[1] - b[0], bb - bt, BOX, 1.2));
    graphics.push(L(b[0], bb, b[2].left, it, BOX, 1), L(b[1], bb, b[2].left + b[2].width, it, BOX, 1));
  });
}
tracePanel(gC, gCi1, gCi2, gCi3, gCd, cTracePre, cTrainTop, cTrainBot, cTrainRest, cTracePost,
  [cInsetBefore, cInsetTrain, cInsetAfter], cDecayBefore, cDecayAfter, BLUE,
  {main:[1129, -670, 200, '200 pA'], ins:[[13.8, -784, 200, '200 pA'], [38.6, -392, 100, '100 pA'], [13.3, -784, 200, '200 pA']],
   dec:-1.08, legY:404, boxTop:346.7, boxBot:438.3},
  'AMPAR/KAR wt', [187, 325], 582.7);
tracePanel(gE, gEi1, gEi2, gEi3, gEd, eTracePre, eTrainTop, eTrainBot, eTrainRest, eTracePost,
  [eInsetBefore, eInsetTrain, eInsetAfter], eDecayBefore, eDecayAfter, GREEN,
  {main:[1145, -2381, 500, '500 pA'], ins:[[13.8, -1960, 500, '500 pA'], [38.6, -980, 250, '250 pA'], [13.3, -1960, 500, '500 pA']],
   dec:-1.03, legY:730.7, boxTop:680.7, boxBot:771.7},
  'AMPAR/KAR \u039416', [193, 666], 916.7);

// ======================= PANELS D & F (summary) =======================
function summaryPanel(gS, gU, gL, before, after, mean, sem, col, title, titleXY, sig) {
  addGrid(gS, xLine, yVis(2));
  pairLines(gS, before, after);
  scatter(gS, before.map(v => [0, v]), col, 8, false, 4);
  scatter(gS, after.map(v => [1, v]), col, 8, true, 5);
  slantLabels(gS, [0, 1], pairLabels);
  addGrid(gU, null, yVis(10));
  addGrid(gL, xLine, yVis(5));
  slantLabels(gL, barPos, barLabels);
  const fills = ['#000', '#fff', col, '#fff'], strokes = ['#000', '#000', col, col];
  [gU, gL].forEach(g => { bars(g, mean, fills, strokes, 20); barErr(g, mean, sem, strokes, 6); });
  // axis break marks
  graphics.push(L(615, gU.top + gU.height + 4, 625, gU.top + gU.height - 2, AX, 1.1));
  graphics.push(L(615, gL.top + 3, 625, gL.top - 3, AX, 1.1));
  // group underlines
  const gy = gL.top + gL.height + 49;
  graphics.push(L(627, gy, 678, gy, AX, 1.2), L(693, gy, 743, gy, AX, 1.2));
  graphics.push(T(652.5, gy + 12.5, barGroups[0], 16), T(718, gy + 12.5, barGroups[1], 16));
  graphics.push(T(476, gS.top + 101, '\u03c4 weighted (ms)', 16, {rotation:Math.PI / 2}));
  graphics.push(T(577, gS.top + 101, 'relative component (%)', 16, {rotation:Math.PI / 2}));
  graphics.push(T(titleXY[0], titleXY[1], title, 18));
  bracket(gS, 0, 1, sig[0][0], 6, sig[0][1], sig[0][2]);
  bracket(gU, barPos[0], barPos[1], sig[1][0], 6, sig[1][1], sig[1][2]);
  bracket(gL, barPos[2], barPos[3], sig[2][0], 6, sig[2][1], sig[2][2]);
}
summaryPanel(gD, gDu, gDl, dBefore, dAfter, dBarMean, dBarSem, BLUE, 'AMPAR/KAR wt', [602, 326],
  [[6.9, '***', -5.3], [100, '***', -5.3], [15.6, '***', -5.3]]);
summaryPanel(gF, gFu, gFl, fBefore, fAfter, fBarMean, fBarSem, GREEN, 'AMPAR/KAR \u039416', [609, 667],
  [[7.24, 'ns', -9.5], [97.7, 'ns', -9.5], [10.6, 'ns', -9.5]]);

// panel letters
[['A', 2, 12.5], ['B', 462, 12.5], ['C', 1, 325], ['D', 463, 325.5], ['E', 1, 662.5], ['F', 463, 662]].forEach(p => {
  graphics.push(T(p[1], p[2], p[0], 17, {align:'left', weight:'bold'}));
});

const chart = echarts.init(document.getElementById('chart'), null, {renderer:'canvas', width:747, height:963});
chart.setOption({
  animation:false,
  backgroundColor:'#ffffff',
  textStyle:{fontFamily:FONT},
  grid:grids, xAxis:xAxes, yAxis:yAxes, series,
  graphic:{elements:graphics}
});
</script>
</body>
</html>
